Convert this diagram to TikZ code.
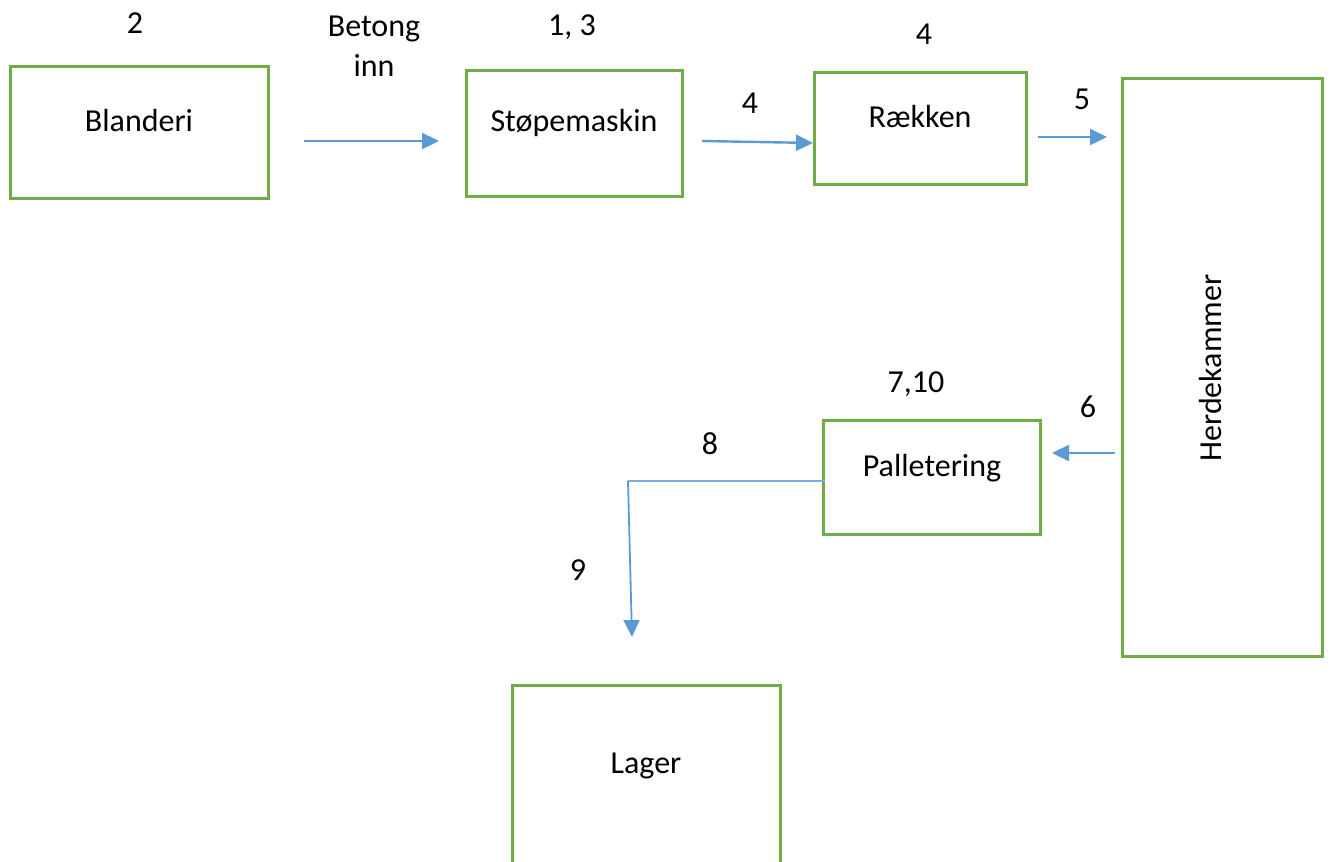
\documentclass[tikz,border=0pt]{standalone}
\usepackage{fontspec}
\setmainfont{Carlito}
\usetikzlibrary{arrows.meta}
\definecolor{boxgreen}{HTML}{70AD47}
\definecolor{flowblue}{HTML}{5B9BD5}
\tikzset{stage/.style={draw=boxgreen, line width=3pt, inner sep=0pt, outer sep=0pt},
%text is placed by its baseline
txt/.style={font=\fontsize{32}{40}\selectfont, inner sep=0pt, anchor=base},
flow/.style={draw=flowblue, line width=2.4pt, -{Triangle[length=17pt,width=16pt]}},
thinflow/.style={draw=flowblue!80, line width=1.5pt}}

\begin{document}
\begin{tikzpicture}[x=1pt,y=-1pt]
\useasboundingbox (0,0) rectangle (1331,862);
%\draw [help lines, step=100] (0,0) grid (1331,862);

% stages
\node[stage, minimum width=258, minimum height=132] (blanderi) at (139,132) {};
\node[stage, minimum width=216, minimum height=126] (stope) at (574,133) {};
\node[stage, minimum width=212, minimum height=112] (rekken) at (920,128) {};
\node[stage, minimum width=200, minimum height=578] (herde) at (1222,367) {};
\node[stage, minimum width=217, minimum height=114] (pall) at (932,477) {};
\node[stage, minimum width=268, minimum height=220] (lager) at (646,795) {};

% stage names
\node[txt] (blandtxt) at (139,131) {Blanderi};
\node[txt] (stopetxt) at (574,131) {Støpemaskin};
\node[txt] (rekktxt) at (920,127) {Rækken};
\node[txt, rotate=90] (herdetxt) at (1221,368) {Herdekammer};
\node[txt] (palltxt) at (932,476) {Palletering};
\node[txt] (lagertxt) at (646,773) {Lager};
\node[txt, anchor=south, align=center] (betong) at (374,77) {Betong\\inn};

%numbers
\foreach \name/\x/\y/\t in {n2/135/33/2, n13/572/35/{1, 3}, n4a/750/113/4, n4b/924/44/4,
    n5/1082/109/5, n710/916/392/{7,10}, n6/1088/417/6, n8/710/454/8, n9/578/580/9}
     \node[txt] (\name) at (\x,\y) {\t};

% flow
\coordinate (a1s) at (304,141);
\coordinate (a1e) at (439,141);
\coordinate (a2s) at (702,141);
\coordinate (a2e) at (813,143);
\coordinate (a3s) at (1038,137);
\coordinate (a3e) at (1107,137);
\coordinate (a4s) at (1115,453);
\coordinate (a4e) at (1052,453);
\coordinate (palout) at (825,481);
\coordinate (bend) at (628,481);
\coordinate (lagerin) at (632,637);

\draw[flow] (a1s) -- (a1e);
\draw[flow] (a2s) -- (a2e);
\draw[flow] (a3s) -- (a3e);
\draw[flow] (a4s) -- (a4e);
\draw[thinflow] (palout) -- (bend);
\draw[flow, line width=1.8pt] (bend) -- (lagerin);

\end{tikzpicture}
\end{document}
